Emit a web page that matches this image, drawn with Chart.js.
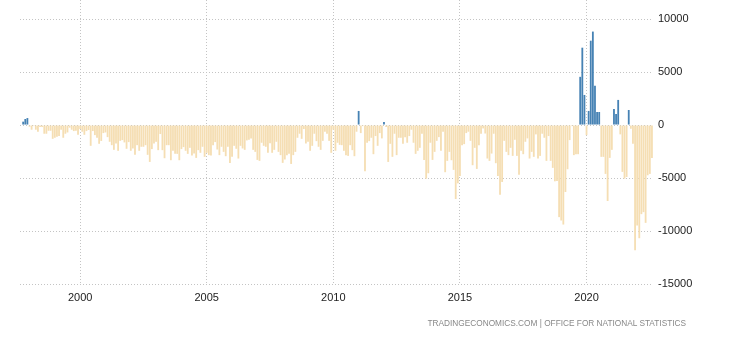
<!DOCTYPE html>
<html>
<head>
<meta charset="utf-8">
<script src="https://cdn.jsdelivr.net/npm/chart.js@4.4.0/dist/chart.umd.min.js"></script>
<style>
  body { margin: 0; background: #fff; }
  #wrap { position: relative; width: 730px; height: 340px; }
  #fonte {
    position: absolute; right: 44px; top: 318px;
    font: 9px Arial, "Liberation Sans", sans-serif; color: #888;
    white-space: nowrap;
    transform: scaleX(0.92); transform-origin: right center;
  }
</style>
</head>
<body>
<div id="wrap">
  <canvas id="grafico"></canvas>
  <div id="fonte">TRADINGECONOMICS.COM | OFFICE FOR NATIONAL STATISTICS</div>
</div>
<script>
// serie mensal, comeca em set/1997
const anoInicio = 1997;
const mesInicio = 9;

const valores = [
  0, 320, 570, 660,
  -160, -440, -100, -440, -630, -190, -190, -820, -820, -540, -540, -1300,
  -1200, -1100, -1040, -440, -1200, -820, -700, -250, -440, -570, -540, -920,
  -380, -630, -920, -570, -470, -1960, -570, -950, -1200, -1770, -1500, -760,
  -700, -1140, -1580, -1900, -2340, -1740, -2430, -1490, -1420, -1640, -2240, -1610,
  -2430, -2210, -2810, -1900, -2430, -2050, -2050, -1900, -2810, -3480, -2270, -1740,
  -1580, -2370, -850, -2370, -3130, -1900, -1900, -3320, -2430, -2720, -2720, -3320,
  -2270, -2080, -2430, -2720, -2150, -2880, -2690, -3100, -2370, -2620, -2050, -3000,
  -2620, -2840, -2880, -1900, -1610, -2310, -2840, -2050, -2530, -2940, -2050, -3570,
  -3000, -1960, -2240, -3160, -1960, -2210, -2340, -1450, -1390, -1260, -2340, -2530,
  -3290, -3380, -1670, -1960, -2050, -2620, -1710, -2620, -2340, -1580, -2530, -2840,
  -3570, -3250, -2840, -2720, -3670, -2840, -2530, -1200, -820, -1300, -380, -1740,
  -1580, -2430, -1960, -820, -1520, -2050, -2340, -1490, -630, -820, -1490, -2620,
  -440, -2430, -1670, -1870, -1900, -2430, -2840, -2910, -1900, -2370, -2940, -630,
  1330, -760, -100, -4360, -1670, -1520, -1200, -2750, -1040, -1960, -760, -1260,
  280, -190, -3480, -1770, -3000, -820, -2840, -1200, -1200, -1770, -1140, -1670,
  -1040, -440, -1670, -2720, -2430, -2150, -820, -3290, -5060, -4550, -1670, -3290,
  -2530, -1490, -1140, -2430, -630, -4450, -3380, -2530, -3320, -4230, -6980, -5500,
  -4800, -1900, -1800, -760, -630, -1490, -3790, -2150, -4140, -1900, -820, -320,
  -800, -3160, -3380, -2690, -820, -3600, -4800, -6570, -5370, -1490, -2530, -2840,
  -2150, -2910, -1390, -2910, -4680, -2430, -2750, -1580, -1260, -3160, -2530, -3000,
  -880, -3160, -2910, -820, -1200, -3380, -1040, -3380, -4040, -5310, -5280, -8690,
  -9010, -9390, -6320, -4170, -1420, -100, -2840, -2750, -2750, 4550, 7300, 2840,
  -950, 1330, 7960, 8820, 3700, 1230, 1230, -3000, -3000, -4610, -7170, -3100,
  -2340, 1520, 1040, 2370, -880, -4420, -5060, -4900, 1420, -350, -1770, -11820,
  -9480, -10680, -8410, -8220, -9230, -4740, -4610, -3100
];

const anosMarcados = [2000, 2005, 2010, 2015, 2020];
const marcasY = [-15000, -10000, -5000, 0, 5000, 10000];

const corPositivo = '#4682b4';
const corNegativo = '#f5deb3';
const corGrade = '#c4c4c4';
const fonteEixo = { family: 'Arial, "Liberation Sans", sans-serif', size: 11 };

// rotulos "AAAA-MM" para cada mes
const rotulos = valores.map(function (v, i) {
  const m = mesInicio - 1 + i;
  const ano = anoInicio + Math.floor(m / 12);
  const mes = (m % 12) + 1;
  return ano + '-' + String(mes).padStart(2, '0');
});

function semPadding(scale) {
  scale.paddingTop = 0;
  scale.paddingBottom = 0;
  scale.paddingLeft = 0;
  scale.paddingRight = 0;
}

new Chart(document.getElementById('grafico'), {
  type: 'bar',
  data: {
    labels: rotulos,
    datasets: [{
      data: valores,
      backgroundColor: valores.map(v => v >= 0 ? corPositivo : corNegativo),
      barPercentage: 0.86,
      categoryPercentage: 1
    }]
  },
  options: {
    responsive: true,
    maintainAspectRatio: false,
    animation: false,
    layout: { padding: { left: 20, top: 0, right: 0, bottom: 0 } },
    plugins: {
      legend: { display: false },
      tooltip: { enabled: false }
    },
    scales: {
      x: {
        border: { display: false, dash: [1, 2] },
        grid: { offset: false, color: corGrade, drawTicks: false },
        ticks: {
          autoSkip: false,
          maxRotation: 0,
          padding: 7,
          color: '#222',
          font: fonteEixo,
          callback: function (value) {
            return rotulos[value].slice(0, 4);
          }
        },
        // so janeiro dos anos marcados
        afterBuildTicks: function (scale) {
          scale.ticks = scale.ticks.filter(function (t) {
            const r = rotulos[t.value];
            return r.endsWith('-01') && anosMarcados.includes(Number(r.slice(0, 4)));
          });
        },
        afterFit: function (scale) {
          scale.height = 56;
          semPadding(scale);
        }
      },
      y: {
        position: 'right',
        min: -15000,
        max: 11800,
        border: { display: false, dash: [1, 2] },
        grid: { color: corGrade, drawTicks: false },
        ticks: {
          padding: 5,
          color: '#222',
          font: fonteEixo,
          callback: function (value) { return String(value); }
        },
        afterBuildTicks: function (scale) {
          scale.ticks = marcasY.map(v => ({ value: v }));
        },
        afterFit: function (scale) {
          scale.width = 77;
          semPadding(scale);
        }
      }
    }
  }
});
</script>
</body>
</html>
